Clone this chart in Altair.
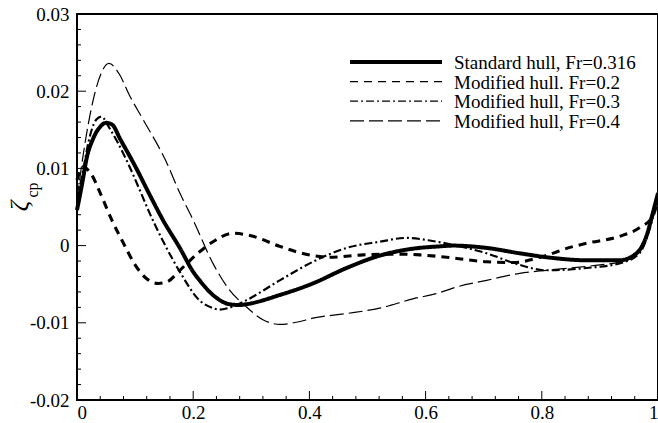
import altair as alt
import pandas as pd

FONT = "Liberation Serif"

# Series names, in legend order, and their line styles
names = [
    "Standard hull, Fr=0.316",
    "Modified hull. Fr=0.2",
    "Modified hull, Fr=0.3",
    "Modified hull, Fr=0.4",
]
dashes = [[1, 0], [8, 6], [8, 3, 2, 3], [14, 5]]
widths = [4, 1.2, 1.2, 1.2]

# Standard hull, Fr=0.316
x_std = [0.0, 0.01, 0.016, 0.028, 0.04, 0.05, 0.06, 0.075, 0.1, 0.125, 0.148, 0.177, 0.2, 0.211,
         0.234, 0.263, 0.28, 0.291, 0.349, 0.406, 0.464, 0.521, 0.578, 0.624, 0.647, 0.705, 0.762,
         0.819, 0.877, 0.934, 0.963, 0.98, 0.991, 1.0]
y_std = [0.0046, 0.0085, 0.0111, 0.0139, 0.0154, 0.0159, 0.0157, 0.0137, 0.0103, 0.0066, 0.0033,
         -0.0003, -0.0034, -0.0045, -0.0064, -0.0076, -0.0077, -0.0076, -0.0064, -0.0049, -0.0029,
         -0.0013, -0.0004, -0.0001, 0.0, -0.0003, -0.001, -0.0016, -0.0019, -0.0019, -0.001, 0.0012,
         0.0042, 0.0068]

# Modified hull, Fr=0.2
x_m2 = [0.0, 0.01, 0.025, 0.04, 0.06, 0.08, 0.1, 0.12, 0.14, 0.155, 0.177, 0.211, 0.234, 0.268,
        0.303, 0.349, 0.406, 0.435, 0.492, 0.55, 0.59, 0.647, 0.705, 0.75, 0.802, 0.85, 0.877,
        0.934, 0.968, 0.991, 1.0]
y_m2 = [0.0085, 0.0102, 0.0092, 0.0068, 0.0033, 0.0003, -0.0025, -0.0043, -0.0049, -0.0047,
        -0.0032, -0.0008, 0.0005, 0.0016, 0.0012, -0.0001, -0.0013, -0.0015, -0.0012, -0.0011,
        -0.0012, -0.0016, -0.0021, -0.0022, -0.0014, -0.0002, 0.0003, 0.0012, 0.0023, 0.0038, 0.006]

# Modified hull, Fr=0.3
x_m3 = [0.0, 0.01, 0.02, 0.033, 0.042, 0.056, 0.085, 0.108, 0.125, 0.15, 0.177, 0.211, 0.234,
        0.245, 0.26, 0.291, 0.349, 0.406, 0.464, 0.521, 0.567, 0.612, 0.647, 0.705, 0.762, 0.808,
        0.877, 0.934, 0.968, 0.985, 1.0]
y_m3 = [0.006, 0.0095, 0.0135, 0.0163, 0.0167, 0.0152, 0.0111, 0.0072, 0.0042, 0.0003, -0.0034,
        -0.0071, -0.0081, -0.0083, -0.0081, -0.0071, -0.0045, -0.0021, -0.0003, 0.0005, 0.001,
        0.0006, 0.0001, -0.001, -0.0025, -0.0032, -0.0029, -0.0023, -0.001, 0.002, 0.0065]

# Modified hull, Fr=0.4
x_m4 = [0.0, 0.013, 0.028, 0.042, 0.055, 0.073, 0.09, 0.114, 0.154, 0.177, 0.2, 0.234, 0.26,
        0.291, 0.32, 0.349, 0.38, 0.406, 0.464, 0.521, 0.578, 0.624, 0.647, 0.705, 0.762, 0.808,
        0.848, 0.9, 0.934, 0.96, 0.98, 1.0]
y_m4 = [0.006, 0.0129, 0.0189, 0.0224, 0.0236, 0.0222, 0.0195, 0.0163, 0.0108, 0.0068, 0.0033,
        -0.0023, -0.0055, -0.0079, -0.0096, -0.0102, -0.0099, -0.0094, -0.0088, -0.0081, -0.0069,
        -0.0061, -0.0055, -0.0045, -0.0036, -0.0032, -0.0029, -0.0025, -0.0021, -0.0012, 0.0015,
        0.0065]

# Axis tick values
x_major = [0.0, 0.2, 0.4, 0.6, 0.8, 1.0]
x_minor = [0.04, 0.08, 0.12, 0.16, 0.24, 0.28, 0.32, 0.36, 0.44, 0.48, 0.52, 0.56,
           0.64, 0.68, 0.72, 0.76, 0.84, 0.88, 0.92, 0.96]
y_major = [-0.02, -0.01, 0.0, 0.01, 0.02, 0.03]
y_minor = [-0.018, -0.016, -0.014, -0.012, -0.008, -0.006, -0.004, -0.002,
           0.002, 0.004, 0.006, 0.008, 0.012, 0.014, 0.016, 0.018,
           0.022, 0.024, 0.026, 0.028]

rows = []
for name, xs, ys in zip(names, [x_std, x_m2, x_m3, x_m4], [y_std, y_m2, y_m3, y_m4]):
    for i, (xv, yv) in enumerate(zip(xs, ys)):
        rows.append({"series": name, "x": xv, "y": yv, "order": i})
df = pd.DataFrame(rows)

W, H = 581, 386

xscale = alt.Scale(domain=[0, 1], nice=False, zero=False)
yscale = alt.Scale(domain=[-0.02, 0.03], nice=False, zero=False)
xaxis = alt.Axis(values=x_major, labelExpr="'' + datum.value", title=None,
                 ticks=False, domain=False, grid=False, labelPadding=3,
                 labelFont=FONT, labelFontSize=19, labelColor="black")
yaxis = alt.Axis(values=y_major, labelExpr="'' + datum.value", title=None,
                 ticks=False, domain=False, grid=False, labelPadding=8,
                 labelFont=FONT, labelFontSize=19, labelColor="black")
X = alt.X("x:Q", scale=xscale, axis=xaxis)
Y = alt.Y("y:Q", scale=yscale, axis=yaxis)

lines = alt.Chart(df).mark_line(interpolate="monotone", color="black").encode(
    x=X, y=Y,
    order="order:Q",
    strokeDash=alt.StrokeDash("series:N", scale=alt.Scale(domain=names, range=dashes),
                              legend=None),
    strokeWidth=alt.StrokeWidth("series:N", scale=alt.Scale(domain=names, range=widths),
                                legend=None),
)

# Inward tick marks along the bottom and left edges
def xticks(vals, length):
    d = pd.DataFrame({"x": vals})
    return alt.Chart(d).mark_rule(color="black", strokeWidth=1).encode(
        x=X, y=alt.value(H), y2=alt.value(H - length))

def yticks(vals, length):
    d = pd.DataFrame({"y": vals})
    return alt.Chart(d).mark_rule(color="black", strokeWidth=1).encode(
        y=Y, x=alt.value(0), x2=alt.value(length))

# Legend drawn inside the plot, one row per series
LEG_X0, LEG_X1, LEG_TX, LEG_Y0, LEG_DY = 273, 365, 377, 48, 19.6
legend_layers = []
for i, name in enumerate(names):
    d = pd.DataFrame({"series": [name]})
    yy = LEG_Y0 + LEG_DY * i
    legend_layers.append(alt.Chart(d).mark_rule(color="black").encode(
        x=alt.value(LEG_X0), x2=alt.value(LEG_X1), y=alt.value(yy),
        strokeDash=alt.value(dashes[i]), strokeWidth=alt.value(widths[i])))
    legend_layers.append(alt.Chart(d).mark_text(
        font=FONT, fontSize=19, align="left", baseline="middle", color="black").encode(
        text="series:N", x=alt.value(LEG_TX), y=alt.value(yy + 1)))

# Rotated y-axis label: zeta with subscript "cp"
zeta = alt.Chart(pd.DataFrame({"t": ["ζ"]})).mark_text(
    font=FONT, fontSize=26, fontStyle="italic", angle=270, align="center",
    baseline="middle", color="black").encode(
    text="t:N", x=alt.value(-57), y=alt.value(192))
sub = alt.Chart(pd.DataFrame({"t": ["cp"]})).mark_text(
    font=FONT, fontSize=16, angle=270, align="center",
    baseline="middle", color="black").encode(
    text="t:N", x=alt.value(-44), y=alt.value(176))

chart = alt.layer(
    lines,
    xticks(x_major, 9), xticks(x_minor, 4),
    yticks(y_major, 9), yticks(y_minor, 4),
    *legend_layers,
    zeta, sub,
).properties(
    width=W, height=H,
    autosize=alt.AutoSizeParams(type="none"),
    padding={"left": 77, "top": 14, "right": 0, "bottom": 23},
).configure_view(
    stroke="black", strokeWidth=2
)

chart.save("out.html", embed_options={"renderer": "svg", "actions": False})
